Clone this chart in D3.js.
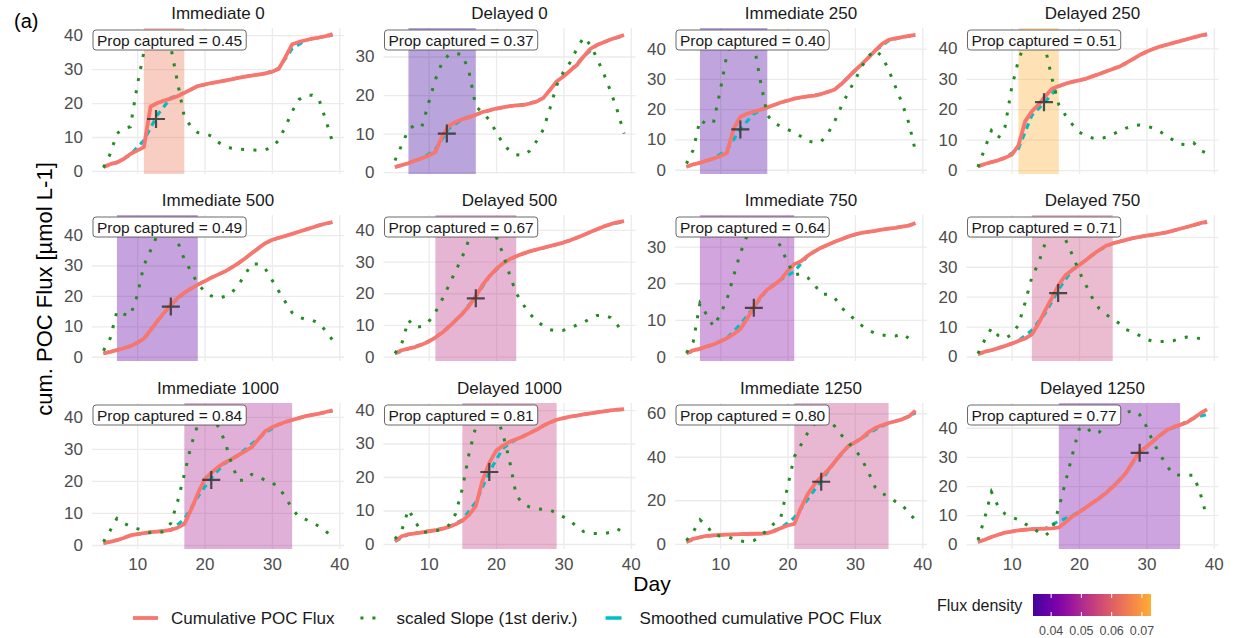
<!DOCTYPE html>
<html>
<head>
<meta charset="utf-8">
<script src="https://cdn.jsdelivr.net/npm/d3@7"></script>
<style>
  body { margin: 0; background: #fff; }
  text { font-family: "Liberation Sans", Arial, sans-serif; }
</style>
</head>
<body>
<svg id="chart" width="1236" height="638"></svg>
<script>
// ---- data ----
var panels = ['Immediate 0', 'Delayed 0', 'Immediate 250', 'Delayed 250',
              'Immediate 500', 'Delayed 500', 'Immediate 750', 'Delayed 750',
              'Immediate 1000', 'Delayed 1000', 'Immediate 1250', 'Delayed 1250'];
var propCaptured = [0.45, 0.37, 0.40, 0.51, 0.49, 0.67, 0.64, 0.71, 0.84, 0.81, 0.80, 0.77];
var windowStart = [11, 7, 7, 11, 7, 11, 7, 13, 17, 15, 21, 17];
var windowEnd = [17, 17, 17, 17, 19, 23, 21, 25, 33, 29, 35, 35];
var fluxDensity = [0.064, 0.034, 0.036, 0.073, 0.038, 0.052, 0.043, 0.055, 0.049, 0.054, 0.053, 0.041];
var crossDay = [12.8, 12.7, 13, 14.8, 15, 17, 15, 16.9, 21, 19, 25, 29];
var crossFlux = [15.3, 10, 13.3, 22.3, 16.5, 18.4, 13.3, 21.2, 20.3, 21.5, 28.5, 31.4];
var yMin = [-0.9, -0.5, -1.4, -1.3, -1.4, -1.4, -1.2, -1.5, -1.25, -1.5, -2.4, -1.6];
var yMax = [42.1, 37.4, 46.8, 46.7, 46.6, 44.7, 38.6, 47.3, 44.3, 42.1, 64.7, 48.5];
var yStep = [10, 10, 10, 10, 10, 10, 10, 10, 10, 10, 20, 10];
var xTicks = [10, 20, 30, 40];
var fluxTicks = [0.04, 0.05, 0.06, 0.07];

var days = [5, 6, 7, 8, 9, 10, 11, 12, 13, 14, 15, 16, 17, 18, 19, 20, 21, 22,
            23, 24, 25, 26, 27, 28, 29, 30, 31, 32, 33, 34, 35, 36, 37, 38, 39];
var smoothDays = [5, 7, 9, 11, 13, 15, 17, 19, 21, 23, 25, 27, 29, 31, 33, 35, 37, 39];

// cumulative POC flux (red)
var cumFlux = [
  [1.2,2,2.5,3.5,5,6,7,19,20,20.7,21.3,22,23,24,25,25.4,25.9,26.2,26.6,27,27.4,27.8,28.1,28.4,28.7,29.2,30,33.5,37.3,38,38.5,39,39.3,39.7,40.3],
  [1.3,1.8,2.3,3,3.6,4.3,5.2,9.3,12,13,13.7,14.2,14.9,15.6,16,16.5,16.8,17.1,17.3,17.4,17.8,18.3,19.2,21.3,23.5,24.8,26.3,27.8,30,32,33,33.7,34.4,35,35.6],
  [1,1.8,2.3,3,3.7,4.5,5.5,13.5,17.5,18.5,19.2,19.8,20.6,21.4,22.2,22.8,23.5,23.9,24.2,24.5,25,25.7,26.5,28.3,30.5,32.8,34.8,37,39.3,41.5,42.9,43.4,43.8,44.2,44.5],
  [1.2,2,2.6,3.2,4,5,8,16,19.3,21.5,24.3,26.7,27.6,28.4,29,29.5,30,30.8,31.6,32.4,33.2,34,35.2,36.5,37.8,38.9,39.8,40.6,41.2,41.8,42.4,43,43.6,44.2,44.7],
  [1.1,1.6,2.2,2.8,3.5,4.5,6,8.8,11.7,14.5,17.2,19.3,21,22.4,23.7,24.8,26,27,28,29.3,30.7,32.3,34,35.7,37.3,38.4,39.1,39.7,40.4,41.1,41.8,42.5,43.2,43.8,44.3],
  [1,2,2.5,3,3.8,4.7,6,7.5,9.4,11.4,13.5,16,19,22.6,25.3,27.6,29.4,30.7,31.7,32.5,33.2,33.8,34.3,34.9,35.4,36,36.7,37.5,38.4,39.3,40.2,41.1,41.8,42.4,42.8],
  [0.9,1.7,2.1,2.8,3.3,4.1,5,6.1,7.5,10.3,13.5,16.3,18.3,19.5,21,23.3,25.2,26,27.5,28.7,29.7,30.5,31.3,32,32.7,33.3,33.7,34,34.3,34.6,34.9,35.1,35.4,35.7,36.4],
  [0.8,1.6,2.1,2.8,3.5,4.3,5.2,6,7.4,11,15.5,19.7,24,27.2,28.9,30.5,32.2,34,35.6,37,37.8,38.4,39,39.6,40,40.4,40.7,41.1,41.5,42.1,42.7,43.3,43.9,44.6,45.1],
  [0.6,1,1.5,2.2,3,3.4,3.7,4,4.2,4.4,4.7,5.4,6.5,11,16,20.5,22.5,24.3,25.7,26.8,28,29.2,30.5,33,35.5,36.7,37.6,38.4,39,39.6,40.2,40.6,41,41.5,42],
  [0.8,2.3,2.9,3.2,3.5,3.8,4.1,4.5,5.1,5.9,6.9,8.7,11.3,19,24.2,27.8,29.3,30.5,31.3,32.1,33.1,34.1,35.3,36.3,37.1,37.6,38,38.3,38.7,39,39.3,39.6,39.9,40.1,40.3],
  [0.8,2.3,3,3.6,3.9,4.1,4.2,4.3,4.4,4.5,4.6,4.6,4.9,5.8,7.2,8.4,9.1,16.5,22.8,27.3,30.8,33.8,37.6,41.5,44.8,46.6,48.5,51.3,53.2,54.5,55.5,56.3,57.2,58.5,61.2],
  [0.8,1.6,2.5,3.3,4,4.4,4.8,5,5.2,5.3,5.4,5.5,5.8,7.6,9.6,11,12.6,14.3,15.8,17.6,19.7,22,24.6,28.3,31.8,33.5,35.4,37.4,39.1,40.3,41,41.8,43.3,44.9,46.3]
];

// scaled slope, 1st derivative (green dotted)
var slopeScaled = [
  [1,5,11,12.5,13,25,35,39,39.5,39,36.5,26,16,13,11.3,11,10.3,8.5,7.3,6.7,6.4,6.3,6.2,6.1,6.2,7,9,13,17.5,21,22.3,22.3,21,15,8.5],
  [3,7,11,12.3,11.8,18,24,28.5,30.5,30.8,30.5,26,17,15.5,13.5,10.5,7.5,5.5,4.5,4.3,5.5,8,11,16.5,22.5,26,28.5,32,35,33,29.5,25.5,21,16,10],
  [2,6.5,16.5,15,15.5,26,38,43,44.5,44,41.5,29,18,15.5,14.3,13.3,12.3,11,9.5,9,9.3,12,16,21,25.5,29.5,34,37.5,39.5,37.5,33,27.5,22,15.5,6],
  [1,7,13,10.5,14,27,36,42,44,43.5,40,30,21.5,18,15,12.5,11.3,10.5,10.2,10.8,11.8,12.8,13.8,14.6,14.8,14.5,13.8,12.7,11.2,9.8,8.5,8.4,9,6.5,5.5],
  [2,6,15,14,13.5,20,30,35,40,42,41,38,32,28,24,21.5,20,19.3,19.8,21,23.5,27,30.5,30.5,29,25.3,21.6,18,14.5,13,12.3,12,11,8.5,5.5],
  [1,4,11.5,9.2,9.5,11,14,18,22.5,27,31.5,37,41,42.5,41.5,38,32.6,26,20,16.5,13.5,11.3,9.7,8.5,8.1,8.3,9,10,10.8,12,13,13,12.3,10,7],
  [1,4,14.5,11.4,8.2,11.4,15.5,22,28.2,33,35.5,36,35,33,30,25.6,22.3,22.6,21.5,19.6,17,17,16,13.3,11.8,10,8.5,7.2,6.4,5.9,5.6,5.6,6.2,5,3.5],
  [1,5.5,9.5,7,6,7.4,10.5,18,26.5,31.3,38,42,42,39,34,28.5,24,19.5,16,14,12.7,11,9,8.2,7,5.7,5.1,5,5.1,5.3,6,6.5,6.3,6,6],
  [1,4.5,8.3,6.8,5.8,5.1,4.5,3.8,3.8,4.2,6.8,13.5,22,31,37.5,40.5,41,37,32.5,25.5,20.2,20.2,22,21.3,20.2,19.5,18,15,11.3,8.8,8,7,5.8,4.3,2.5],
  [1.5,4,10.3,6.7,3.5,3.6,3.9,4.4,5.6,9,16.5,27,35,39,40,38.5,33,25,14.5,12,11,10.5,10.3,10.1,9.3,8.1,6.8,5.3,3.7,3.2,3.1,3.1,3.5,4.5,3.5],
  [1.5,5.4,11,8.5,4,3.6,3.3,2.3,1.3,0.9,1.5,3.5,6.3,9.3,12,26,40,45.5,51,55,57,57.5,54,50,46.5,43.5,39,33,26,23.3,21.5,19.5,18,14,11],
  [1.5,9,18,13,10.5,9.3,8.5,7,5.8,4.2,3,5,12.5,21.5,30.6,39.5,40.5,38,38.5,41.5,43.5,44.5,45.2,46,44.5,40.5,35,31,27,24,23.7,23.7,23.7,17.5,9]
];

// smoothed cumulative POC flux (teal dashed), every 2nd day
var smoothFlux = [
  [1.2,2.5,4.8,9,16.5,21.5,23,25,25.9,26.6,27.4,28.1,28.7,30.2,36,38.5,39.3,40],
  [1.3,2.3,3.6,5.8,11.3,13.7,14.9,16,16.8,17.3,17.8,19.2,23.5,26.3,30,33,34.4,35.4],
  [1,2.3,3.7,6.5,13.5,18.5,20.6,22.2,23.5,24.2,25,26.5,30.5,34.8,39.3,42.6,43.8,44.3],
  [1.2,2.6,4,7,18,22.5,27.6,29,30,31.6,33.2,35.2,37.8,39.8,41.2,42.4,43.6,44.5],
  [1.1,2.2,3.5,5.8,11.7,17,21,23.7,26,28,30.7,34,37.3,39.1,40.4,41.8,43.2,44.2],
  [1,2.5,3.8,6,9.4,13.5,19,25.3,29.4,31.7,33.2,34.3,35.4,36.7,38.4,40.2,41.8,42.6],
  [0.9,2.1,3.3,5,8.8,13.5,18.3,21,23.2,27.5,29.7,31.3,32.7,33.7,34.3,34.9,35.4,36.2],
  [0.8,2.1,3.5,5.2,8.8,14.5,22.5,29,32.2,35.6,37.8,39,40,40.7,41.5,42.7,43.9,44.8],
  [0.6,1.5,3,3.7,4.2,4.7,8,15,21,25.5,28,31.5,35,37.6,39,40.2,41,41.8],
  [0.8,2.9,3.5,4.1,5.1,7.2,12.5,21.5,28.5,31.3,33.1,35.3,37.1,38,38.7,39.3,39.9,40.2],
  [0.8,3,3.9,4.2,4.4,4.6,5,7.2,12,20.5,29,37.6,44.8,48.5,52.5,55.5,57.2,60.2],
  [0.8,2.5,4,4.8,5.2,5.4,8,9.8,12.6,15.8,19.7,24.6,31.5,35.4,39.1,41,43.3,44.6]
];

// ---- layout ----
var svg = d3.select('#chart');
var colLeft = [92, 383.5, 675, 966.5];
var rowTop = [28, 215, 403];
var plotW = 252, plotH = 146;

var RED = '#F8766D', TEAL = '#00BFC4', GREEN = '#228B22';
var GRID = '#ebebeb', TICKTXT = '#4d4d4d';

var x = d3.scaleLinear().domain([3.3, 40.7]).range([0, plotW]);

var fluxExtent = d3.extent(fluxDensity);
// plasma, trimmed at both ends like the reference colour bar
var fillScale = d3.scaleSequential(function(t) {
  return d3.interpolatePlasma(0.1 + 0.72 * t);
}).domain(fluxExtent);

var line = d3.line();

panels.forEach(function(name, i) {
  var col = i % 4, row = Math.floor(i / 4);
  var g = svg.append('g')
    .attr('transform', 'translate(' + colLeft[col] + ',' + rowTop[row] + ')');

  var y = d3.scaleLinear().domain([yMin[i], yMax[i]]).range([plotH, 0]);
  var yt = d3.range(0, yMax[i], yStep[i]);

  // grid + y labels
  var ya = g.append('g')
    .call(d3.axisLeft(y).tickValues(yt).tickSize(-plotW).tickPadding(9));
  ya.select('.domain').remove();
  ya.selectAll('line').attr('stroke', GRID).attr('stroke-width', 1.3);
  ya.selectAll('text').attr('fill', TICKTXT).style('font-size', '17px');

  var xa = g.append('g')
    .attr('transform', 'translate(0,' + plotH + ')')
    .call(d3.axisBottom(x).tickValues(xTicks).tickSize(-plotH).tickPadding(9)
      .tickFormat(row === 2 ? d3.format('d') : function() { return ''; }));
  xa.select('.domain').remove();
  xa.selectAll('line').attr('stroke', GRID).attr('stroke-width', 1.3);
  xa.selectAll('text').attr('fill', TICKTXT).style('font-size', '17px');

  // capture window
  g.append('rect')
    .attr('x', x(windowStart[i]))
    .attr('width', x(windowEnd[i]) - x(windowStart[i]))
    .attr('y', 0)
    .attr('height', plotH)
    .attr('fill', fillScale(fluxDensity[i]))
    .attr('fill-opacity', 0.36);

  // smoothed (teal), cumulative (red), slope (green dotted)
  g.append('path')
    .attr('d', line(smoothDays.map(function(d, k) { return [x(d), y(smoothFlux[i][k])]; })))
    .attr('fill', 'none').attr('stroke', TEAL).attr('stroke-width', 3.2)
    .attr('stroke-dasharray', '6 5');

  g.append('path')
    .attr('d', line(days.map(function(d, k) { return [x(d), y(cumFlux[i][k])]; })))
    .attr('fill', 'none').attr('stroke', RED).attr('stroke-width', 3.8)
    .attr('stroke-linejoin', 'round');

  g.append('path')
    .attr('d', line(days.map(function(d, k) { return [x(d), y(slopeScaled[i][k])]; })))
    .attr('fill', 'none').attr('stroke', GREEN).attr('stroke-width', 3)
    .attr('stroke-dasharray', '3 9.3');

  // centre cross
  g.append('path')
    .attr('transform', 'translate(' + x(crossDay[i]) + ',' + y(crossFlux[i]) + ')')
    .attr('d', 'M-9,0H9M0,-9V9')
    .attr('stroke', '#333').attr('stroke-width', 2.2).attr('stroke-opacity', 0.85);

  // label box
  var lab = g.append('g').attr('transform', 'translate(1,2)');
  var box = lab.append('rect');
  var t = lab.append('text')
    .attr('x', 4).attr('y', 15.5)
    .style('font-size', '15.5px').attr('fill', '#1a1a1a')
    .text('Prop captured = ' + d3.format('.2f')(propCaptured[i]));
  var tw = t.node().getComputedTextLength();
  box.attr('width', tw + 8).attr('height', 20).attr('rx', 3)
    .attr('fill', '#fff').attr('stroke', '#444').attr('stroke-width', 0.8);

  // panel title
  svg.append('text')
    .attr('x', colLeft[col] + plotW / 2)
    .attr('y', rowTop[row] - 9)
    .attr('text-anchor', 'middle')
    .style('font-size', '17px').attr('fill', '#1a1a1a')
    .text(name);
});

// figure tag + axis titles
svg.append('text').attr('x', 14).attr('y', 28)
  .style('font-size', '20px').text('(a)');

svg.append('text')
  .attr('transform', 'translate(44,289) rotate(-90)')
  .attr('text-anchor', 'middle').attr('dominant-baseline', 'central')
  .style('font-size', '22px').text('cum. POC Flux [\u00b5mol L-1]');

svg.append('text')
  .attr('x', 652).attr('y', 583)
  .attr('text-anchor', 'middle').attr('dominant-baseline', 'central')
  .style('font-size', '21px').text('Day');

// ---- legend ----
var legY = 618;
var legItems = [
  { label: 'Cumulative POC Flux', color: RED, width: 3.8, dash: null },
  { label: 'scaled Slope (1st deriv.)', color: GREEN, width: 3, dash: '3 9' },
  { label: 'Smoothed cumulative POC Flux', color: TEAL, width: 3.5, dash: null }
];
var lx = 133;
legItems.forEach(function(it, k) {
  var kx0 = lx, kx1 = lx + 25;
  if (k === 1) { kx0 = lx + 2; kx1 = lx + 24; }
  if (k === 2) { kx0 = lx + 4; kx1 = lx + 20; }
  var kl = svg.append('line')
    .attr('x1', kx0).attr('x2', kx1).attr('y1', legY).attr('y2', legY)
    .attr('stroke', it.color).attr('stroke-width', it.width);
  if (it.dash) kl.attr('stroke-dasharray', it.dash);
  var tx = svg.append('text')
    .attr('x', lx + 38).attr('y', legY)
    .attr('dominant-baseline', 'central')
    .style('font-size', '17px').attr('fill', '#1a1a1a')
    .text(it.label);
  lx = lx + 38 + tx.node().getComputedTextLength() + 24;
});

// colour bar
svg.append('text')
  .attr('x', 937).attr('y', 605)
  .attr('dominant-baseline', 'central')
  .style('font-size', '16px').attr('fill', '#1a1a1a')
  .text('Flux density');

var cbX = d3.scaleLinear().domain(fluxExtent).range([1033, 1151]);
var grad = svg.append('defs').append('linearGradient')
  .attr('id', 'fluxgrad').attr('x1', '0%').attr('x2', '100%');
d3.range(0, 1.0001, 0.1).forEach(function(s) {
  grad.append('stop')
    .attr('offset', (s * 100) + '%')
    .attr('stop-color', fillScale(fluxExtent[0] + s * (fluxExtent[1] - fluxExtent[0])));
});
svg.append('rect')
  .attr('x', 1033).attr('y', 594).attr('width', 118).attr('height', 22)
  .attr('fill', 'url(#fluxgrad)');

fluxTicks.forEach(function(v) {
  var px = cbX(v);
  svg.append('line').attr('x1', px).attr('x2', px).attr('y1', 594).attr('y2', 598)
    .attr('stroke', '#fff').attr('stroke-width', 1);
  svg.append('line').attr('x1', px).attr('x2', px).attr('y1', 612).attr('y2', 616)
    .attr('stroke', '#fff').attr('stroke-width', 1);
  svg.append('text')
    .attr('x', px).attr('y', 631)
    .attr('text-anchor', 'middle').attr('dominant-baseline', 'central')
    .style('font-size', '12.5px').attr('fill', TICKTXT)
    .text(d3.format('.2f')(v));
});
</script>
</body>
</html>
